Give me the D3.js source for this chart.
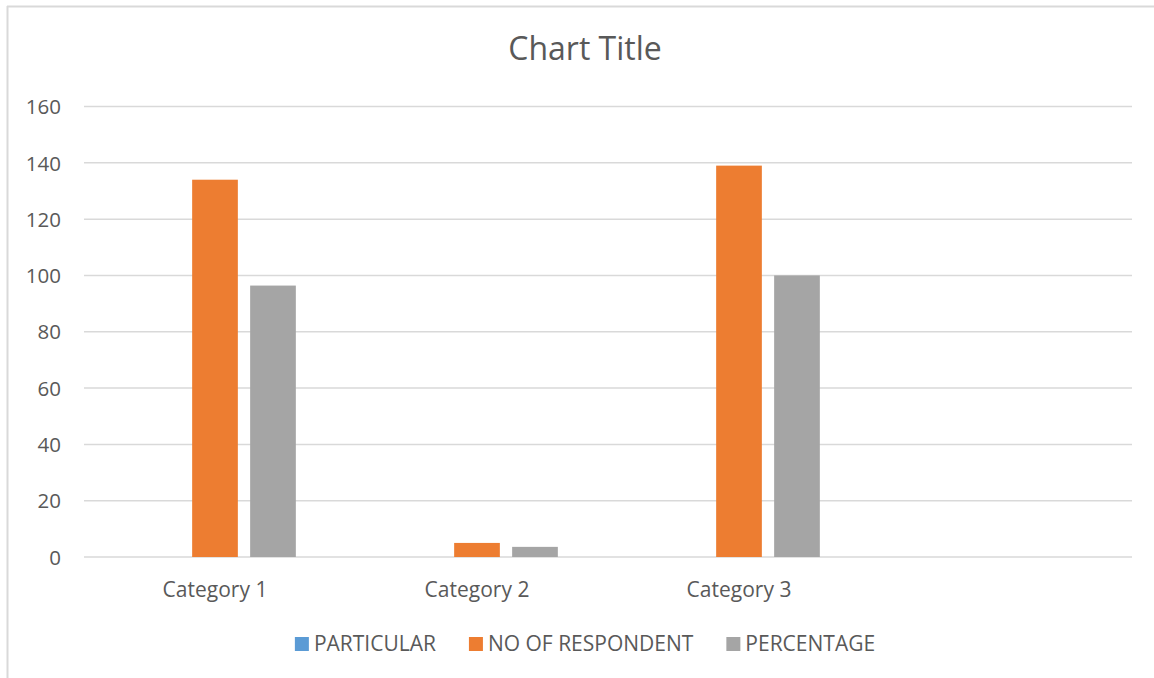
<!DOCTYPE html>
<html>
<head>
<meta charset="utf-8">
<script src="https://cdn.jsdelivr.net/npm/d3@7"></script>
<style>
  html, body { margin: 0; padding: 0; background: #ffffff; }
  svg { display: block; font-family: "Open Sans", "Liberation Sans", sans-serif; }
</style>
</head>
<body>
<svg id="chart" width="1154" height="678"></svg>
<script>
// Chart data
const categories = ["Category 1", "Category 2", "Category 3", ""];
const seriesNames = ["PARTICULAR", "NO OF RESPONDENT", "PERCENTAGE"];
const particular = [0, 0, 0, null];
const noOfRespondent = [134, 5, 139, null];
const percentage = [96.4, 3.6, 100, null];
const yTicks = [0, 20, 40, 60, 80, 100, 120, 140, 160];
const colors = ["#5b9bd5", "#ed7d31", "#a5a5a5"];

const seriesValues = [particular, noOfRespondent, percentage];

const svg = d3.select("#chart");
const W = 1154, H = 678;
const plot = { left: 84, right: 1132, top: 106.5, bottom: 557 };
const centerX = 585;
const textColor = "#595959";
const gridColor = "#d9d9d9";

// Chart area frame (left and top edges visible)
svg.append("line").attr("x1", 7.5).attr("x2", 7.5).attr("y1", 6).attr("y2", H)
  .attr("stroke", gridColor).attr("stroke-width", 2);
svg.append("line").attr("x1", 7).attr("x2", W).attr("y1", 6.5).attr("y2", 6.5)
  .attr("stroke", gridColor).attr("stroke-width", 2);

// Scales
const x0 = d3.scaleBand().domain(d3.range(categories.length))
  .range([plot.left, plot.right]).paddingInner(0).paddingOuter(0);
const x1 = d3.scaleBand().domain(d3.range(seriesNames.length))
  .range([0, x0.bandwidth()]).paddingInner(0.212).paddingOuter(0.865);
const y = d3.scaleLinear().domain([0, 160]).range([plot.bottom, plot.top]);

// Gridlines
svg.append("g")
  .selectAll("line").data(yTicks).join("line")
  .attr("x1", plot.left).attr("x2", plot.right)
  .attr("y1", d => y(d)).attr("y2", d => y(d))
  .attr("stroke", gridColor).attr("stroke-width", 1.5);

// Y axis labels
const yAxis = d3.axisLeft(y).tickValues(yTicks).tickSize(0).tickPadding(0);
const yg = svg.append("g").attr("transform", `translate(61,0)`).call(yAxis);
yg.select(".domain").remove();
yg.selectAll("text").attr("fill", textColor).style("font-size", "20.5px")
  .style("font-family", "'Open Sans', sans-serif").attr("dy", "0.35em");

// X axis labels
const xAxis = d3.axisBottom(x0).tickFormat(i => categories[i]).tickSize(0).tickPadding(0);
const xg = svg.append("g").attr("transform", `translate(0,${plot.bottom})`).call(xAxis);
xg.select(".domain").remove();
xg.selectAll("text").attr("fill", textColor).style("font-size", "21px")
  .style("font-family", "'Open Sans', sans-serif").attr("y", 40).attr("dy", 0);

// Bars
const barData = [];
categories.forEach((c, ci) => {
  seriesValues.forEach((vals, si) => {
    if (vals[ci] != null) barData.push({ ci, si, v: vals[ci] });
  });
});
svg.append("g").selectAll("rect").data(barData).join("rect")
  .attr("x", d => x0(d.ci) + x1(d.si))
  .attr("width", x1.bandwidth())
  .attr("y", d => y(d.v))
  .attr("height", d => y(0) - y(d.v))
  .attr("fill", d => colors[d.si]);

// Title
svg.append("text").attr("x", centerX).attr("y", 60).attr("text-anchor", "middle")
  .attr("fill", textColor).style("font-size", "32px").text("Chart Title");

// Legend
const legend = svg.append("g");
const items = legend.selectAll("g").data(seriesNames).join("g");
items.append("rect").attr("width", 14).attr("height", 14).attr("y", -14)
  .attr("fill", (d, i) => colors[i]);
items.append("text").attr("x", 19).attr("y", 0).attr("fill", textColor)
  .style("font-size", "21px").text(d => d);
let offset = 0;
items.each(function () {
  const g = d3.select(this);
  const w = 19 + g.select("text").node().getComputedTextLength();
  g.attr("transform", `translate(${offset},0)`);
  offset += w + 33;
});
const total = offset - 33;
legend.attr("transform", `translate(${centerX - total / 2},651)`);
</script>
</body>
</html>
